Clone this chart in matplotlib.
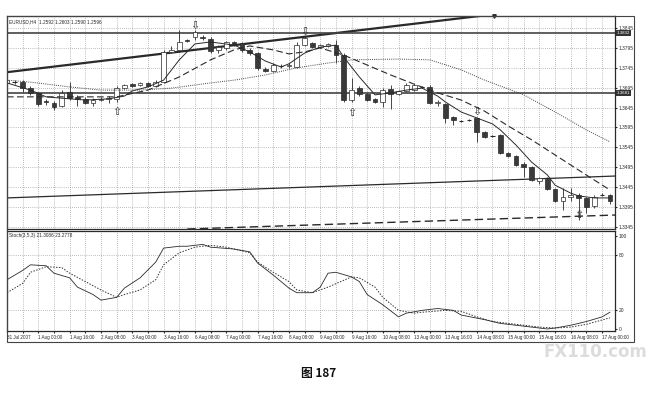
import matplotlib.pyplot as plt
from matplotlib.patches import Rectangle
from matplotlib.transforms import blended_transform_factory

plt.rcParams['font.family'] = ['Liberation Sans', 'DejaVu Sans']

# EURUSD H4 candles, bar 0 = 31 Jul 2007 08:00
opens = [1.3707, 1.3710, 1.3709, 1.3694, 1.3682, 1.3662, 1.3657, 1.3649, 1.3684, 1.3672,
         1.3667, 1.3657, 1.3664, 1.3666, 1.3667, 1.3694, 1.3704, 1.3702, 1.3707, 1.3699,
         1.3709, 1.3785, 1.3790, 1.3815, 1.3822, 1.3822, 1.3817, 1.3790, 1.3795, 1.3810,
         1.3807, 1.3790, 1.3782, 1.3742, 1.3737, 1.3750, 1.3749, 1.3747, 1.3802, 1.3807,
         1.3797, 1.3800, 1.3802, 1.3777, 1.3664, 1.3694, 1.3679, 1.3667, 1.3659, 1.3692,
         1.3679, 1.3687, 1.3689, 1.3697, 1.3697, 1.3657, 1.3654, 1.3621, 1.3612, 1.3613,
         1.3619, 1.3584, 1.3574, 1.3576, 1.3531, 1.3523, 1.3503, 1.3496, 1.3461, 1.3466,
         1.3440, 1.3410, 1.3420, 1.3425, 1.3418, 1.3398, 1.3424, 1.3425]
highs = [1.3719, 1.3714, 1.3714, 1.3699, 1.3684, 1.3667, 1.3662, 1.3689, 1.3709, 1.3677,
         1.3672, 1.3669, 1.3672, 1.3674, 1.3699, 1.3704, 1.3707, 1.3709, 1.3709, 1.3714,
         1.3790, 1.3800, 1.3840, 1.3817, 1.3840, 1.3827, 1.3822, 1.3802, 1.3812, 1.3812,
         1.3810, 1.3795, 1.3785, 1.3747, 1.3757, 1.3755, 1.3757, 1.3810, 1.3825, 1.3810,
         1.3805, 1.3807, 1.3815, 1.3782, 1.3719, 1.3699, 1.3682, 1.3669, 1.3694, 1.3702,
         1.3689, 1.3707, 1.3704, 1.3699, 1.3702, 1.3664, 1.3657, 1.3624, 1.3614, 1.3616,
         1.3621, 1.3586, 1.3576, 1.3579, 1.3533, 1.3526, 1.3508, 1.3498, 1.3471, 1.3471,
         1.3443, 1.3443, 1.3443, 1.3430, 1.3420, 1.3425, 1.3430, 1.3428]
lows = [1.3702, 1.3704, 1.3684, 1.3677, 1.3649, 1.3652, 1.3639, 1.3647, 1.3664, 1.3649,
        1.3654, 1.3649, 1.3662, 1.3657, 1.3659, 1.3692, 1.3697, 1.3699, 1.3697, 1.3697,
        1.3707, 1.3782, 1.3785, 1.3810, 1.3815, 1.3815, 1.3782, 1.3782, 1.3790, 1.3800,
        1.3785, 1.3777, 1.3740, 1.3734, 1.3734, 1.3745, 1.3745, 1.3745, 1.3800, 1.3795,
        1.3795, 1.3797, 1.3757, 1.3659, 1.3659, 1.3674, 1.3662, 1.3657, 1.3647, 1.3641,
        1.3677, 1.3684, 1.3687, 1.3694, 1.3654, 1.3649, 1.3606, 1.3601, 1.3609, 1.3611,
        1.3559, 1.3569, 1.3571, 1.3528, 1.3521, 1.3498, 1.3471, 1.3461, 1.3453, 1.3438,
        1.3408, 1.3388, 1.3410, 1.3362, 1.3380, 1.3393, 1.3423, 1.3403]
closes = [1.3714, 1.3711, 1.3694, 1.3682, 1.3654, 1.3660, 1.3647, 1.3682, 1.3669, 1.3667,
          1.3657, 1.3664, 1.3666, 1.3669, 1.3694, 1.3702, 1.3699, 1.3707, 1.3699, 1.3709,
          1.3785, 1.3790, 1.3810, 1.3812, 1.3835, 1.3820, 1.3787, 1.3797, 1.3810, 1.3805,
          1.3790, 1.3782, 1.3745, 1.3737, 1.3752, 1.3749, 1.3752, 1.3802, 1.3820, 1.3797,
          1.3802, 1.3805, 1.3777, 1.3664, 1.3689, 1.3679, 1.3664, 1.3659, 1.3689, 1.3679,
          1.3687, 1.3702, 1.3702, 1.3698, 1.3657, 1.3659, 1.3619, 1.3614, 1.3611, 1.3614,
          1.3584, 1.3571, 1.3573, 1.3531, 1.3523, 1.3501, 1.3496, 1.3463, 1.3468, 1.3440,
          1.3410, 1.3420, 1.3425, 1.3418, 1.3395, 1.3420, 1.3425, 1.3410]

# moving averages (bar index, price)
fast_bars = [0, 3, 5, 8, 10, 13, 15, 16, 18, 20, 22, 23, 24, 26, 29, 31, 33, 35, 36, 38,
             40, 42, 43, 45, 47, 49, 51, 53, 54, 55, 56, 58, 60, 62, 63, 65, 67, 69, 70, 72,
             73, 75, 77]
fast_ma = [1.3707, 1.3689, 1.3672, 1.3667, 1.3664, 1.3667, 1.3674, 1.3687, 1.3697, 1.3714,
           1.3765, 1.3785, 1.3805, 1.3810, 1.3802, 1.3785, 1.3762, 1.3747, 1.3755, 1.3782,
           1.3797, 1.3802, 1.3772, 1.3722, 1.3677, 1.3682, 1.3689, 1.3694, 1.3684, 1.3674,
           1.3659, 1.3634, 1.3619, 1.3604, 1.3589, 1.3551, 1.3508, 1.3476, 1.3450, 1.3430,
           1.3423, 1.3418, 1.3418]
mid_bars = [0, 7, 14, 18, 22, 26, 29, 31, 34, 36, 38, 40, 43, 46, 49, 52, 55, 58, 61, 64,
            67, 70, 73, 77]
mid_ma = [1.3672, 1.3672, 1.3672, 1.3689, 1.3722, 1.3765, 1.3790, 1.3800, 1.3790, 1.3780,
          1.3785, 1.3795, 1.3777, 1.3752, 1.3727, 1.3704, 1.3682, 1.3664, 1.3636, 1.3599,
          1.3564, 1.3526, 1.3488, 1.3438]
slow_bars = [0, 3, 8, 12, 17, 21, 26, 29, 33, 37, 41, 44, 50, 54, 58, 61, 66, 70, 74, 77]
slow_ma = [1.3714, 1.3709, 1.3697, 1.3689, 1.3689, 1.3694, 1.3707, 1.3714, 1.3727, 1.3745,
           1.3757, 1.3765, 1.3767, 1.3765, 1.3740, 1.3714, 1.3677, 1.3634, 1.3589, 1.3559]

# hand-drawn lines (bar, price pairs)
upper_trend = [(0, 1.3734), (59.4, 1.3873)]
lower_trend = [(0, 1.3418), (77.65, 1.3473)]
lower_dashed = [(26.3, 1.3342), (77.65, 1.3375)]
h_levels = [1.3832, 1.3681]

# fractal arrows
up_arrow_bars = [14, 44, 73]
up_arrow_prices = [1.3634, 1.3631, 1.3375]
down_arrow_bars = [24, 38, 60]
down_arrow_prices = [1.3850, 1.3835, 1.3634]

# stochastic (bar, value)
stoch_bars = [0, 2, 3, 5, 6, 8, 9, 11, 12, 14, 15, 17, 19, 20, 22, 23, 25, 26, 29, 31,
              32, 34, 36, 37, 39, 40, 41, 42, 44, 45, 46, 48, 50, 51, 53, 55, 57, 58, 61, 63,
              65, 67, 69, 70, 72, 74, 76, 77]
stoch_main = [53, 63, 69, 68, 60, 55, 45, 37, 31, 34, 44, 55, 72, 87, 89, 89, 91, 88, 86, 83,
              71, 58, 44, 39, 39, 45, 60, 61, 56, 51, 37, 26, 13, 17, 20, 22, 20, 15, 10, 6,
              4, 2, 0, 1, 4, 8, 13, 18]
signal_bars = [0, 2, 3, 5, 7, 8, 10, 12, 14, 15, 17, 19, 20, 22, 24, 26, 28, 31, 32, 34,
               36, 37, 39, 41, 44, 45, 47, 48, 50, 52, 53, 56, 58, 60, 62, 65, 68, 70, 72, 74,
               77]
stoch_signal = [39, 49, 61, 67, 66, 60, 51, 42, 34, 37, 42, 53, 69, 82, 88, 90, 88, 82, 72, 61,
                51, 42, 39, 45, 56, 55, 45, 34, 20, 17, 18, 20, 19, 13, 8, 5, 2, 1, 2, 5,
                12]

price_ticks = [1.3345, 1.3395, 1.3445, 1.3495, 1.3545, 1.3595, 1.3645, 1.3695, 1.3745,
               1.3795, 1.3845]
date_labels = {0: '31 Jul 2007', 4: '1 Aug 00:00', 8: '1 Aug 16:00', 12: '2 Aug 08:00',
               16: '3 Aug 00:00', 20: '3 Aug 16:00', 24: '6 Aug 08:00', 28: '7 Aug 00:00',
               32: '7 Aug 16:00', 36: '8 Aug 08:00', 40: '9 Aug 00:00', 44: '9 Aug 16:00',
               48: '10 Aug 08:00', 52: '13 Aug 00:00', 56: '13 Aug 16:00', 60: '14 Aug 08:00',
               64: '15 Aug 00:00', 68: '15 Aug 16:00', 72: '16 Aug 08:00', 76: '17 Aug 00:00'}

ink = '#2a2a2a'
grid_kw = dict(color='#808080', lw=0.5, linestyle=(0, (1, 2)))

fig = plt.figure(figsize=(6.64, 4.01), dpi=100)
W, H = 664, 401
ax = fig.add_axes([7 / W, 1 - 229 / H, 608 / W, 213 / H])
ax2 = fig.add_axes([7 / W, 1 - 331 / H, 608 / W, 100 / H])

for a in (ax, ax2):
    a.set_xlim(0, 77.65)
    a.set_xticks(range(0, 78, 2))
    a.grid(True, **grid_kw)
    a.set_axisbelow(True)
    for s in a.spines.values():
        s.set_color(ink)
        s.set_linewidth(0.9)
    a.yaxis.tick_right()
    a.tick_params(axis='y', labelsize=3.5, length=1.5, pad=1, colors=ink)

ax.set_ylim(1.33399, 1.38752)
ax.set_yticks(price_ticks)
ax.set_yticklabels([f'{p:.4f}' for p in price_ticks])
ax.tick_params(axis='x', length=0, labelbottom=False)

# candles
bars = list(range(len(opens)))
for i, o, h, l, c in zip(bars, opens, highs, lows, closes):
    ax.vlines(i, l, h, color=ink, lw=0.6, zorder=3)
    if abs(c - o) < 0.00015:
        ax.hlines((o + c) / 2, i - 0.3, i + 0.3, color=ink, lw=0.8, zorder=4)
    else:
        face = '#3a3a3a' if c < o else 'white'
        ax.bar(i, abs(c - o), bottom=min(o, c), width=0.6, color=face,
               edgecolor=ink, lw=0.5, zorder=4)

ax.plot(fast_bars, fast_ma, color=ink, lw=0.7, zorder=5)
ax.plot(mid_bars, mid_ma, color=ink, lw=0.8, dashes=(6, 3), zorder=5)
ax.plot(slow_bars, slow_ma, color='#444444', lw=0.7, linestyle=(0, (1, 1.2)), zorder=5)

ax.axline(upper_trend[0], upper_trend[1], color=ink, lw=1.6, zorder=2)
ax.axline(lower_trend[0], lower_trend[1], color=ink, lw=0.9, zorder=2)
ax.axline(lower_dashed[0], lower_dashed[1], color=ink, lw=1.0, dashes=(6, 3), zorder=2)
blend = blended_transform_factory(ax.transAxes, ax.transData)
for lvl in h_levels:
    ax.axhline(lvl, color='#444444', lw=1.2, zorder=2)
    ax.text(1.003, lvl, f'{lvl:.4f}', transform=blend, fontsize=3.2, color='white',
            va='center', ha='left',
            bbox=dict(boxstyle='square,pad=0.25', fc='#333333', ec='none'))

for b, p in zip(up_arrow_bars, up_arrow_prices):
    ax.text(b, p, '\u21e7', family='DejaVu Sans', fontsize=8, color='#333333',
            ha='center', va='center', zorder=6)
for b, p in zip(down_arrow_bars, down_arrow_prices):
    ax.text(b, p, '\u21e9', family='DejaVu Sans', fontsize=8, color='#333333',
            ha='center', va='center', zorder=6)

ax.plot([62.2], [1.0], marker='v', ms=2.5, color=ink,
        transform=blended_transform_factory(ax.transData, ax.transAxes), clip_on=False)
ax.text(0.004, 0.985, 'EURUSD,H4  1.2592 1.2603 1.2590 1.2596', transform=ax.transAxes,
        fontsize=3.4, va='top', ha='left', color=ink)

# stochastic panel
ax2.set_ylim(-2.2, 105.4)
ax2.set_yticks([0, 20, 80, 100])
ax2.set_yticklabels(['0', '20', '80', '100'])
ax2.grid(False, axis='y')
for lvl in (20, 80):
    ax2.axhline(lvl, **grid_kw)
ax2.plot(stoch_bars, stoch_main, color=ink, lw=0.6)
ax2.plot(signal_bars, stoch_signal, color='#333333', lw=0.7, linestyle=(0, (1.5, 1.5)))
ax2.text(0.004, 0.975, 'Stoch(3,5,3) 21.3086 23.2778', transform=ax2.transAxes,
         fontsize=3.4, va='top', ha='left', color=ink)
ax2.set_xticklabels([date_labels.get(t, '') for t in range(0, 78, 2)])
ax2.tick_params(axis='x', labelsize=3.3, length=1.5, pad=1.5, colors=ink)
for lab in ax2.get_xticklabels():
    lab.set_ha('left')

# outer frame
fig.patches.append(Rectangle((7 / W, 1 - 342 / H), 627 / W, 326 / H, fill=False,
                             lw=0.8, ec='#444444', transform=fig.transFigure))

fig.text(0.897, 1 - 352 / H, 'FX110.com', fontsize=12, fontweight='bold', color='#dcdcdc',
         ha='center', va='center', family='DejaVu Sans', zorder=0)
fig.text(319 / W, 1 - 373 / H, '图 187', fontsize=8.5, fontweight='bold', color='#111111',
         ha='center', va='center', family=['Noto Sans CJK SC', 'DejaVu Sans'])

fig.savefig('out.png', dpi=100)
